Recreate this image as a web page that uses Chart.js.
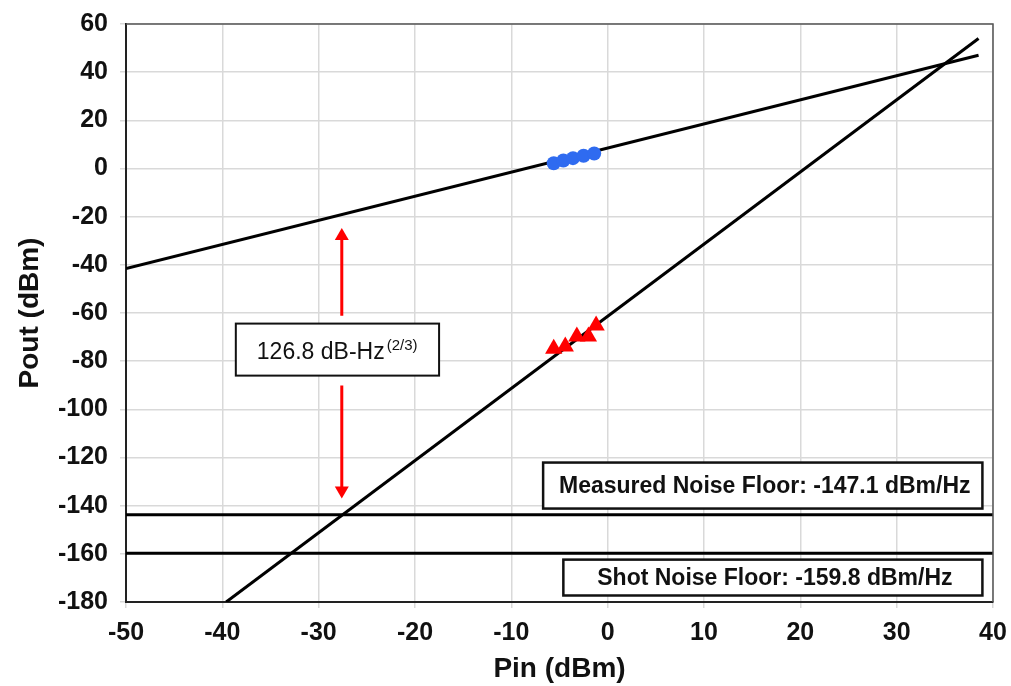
<!DOCTYPE html>
<html>
<head>
<meta charset="utf-8">
<script src="https://cdn.jsdelivr.net/npm/chart.js@4/dist/chart.umd.min.js"></script>
<style>
  html, body { margin: 0; padding: 0; background: #fff; }
  #chart { display: block; }
</style>
</head>
<body>
<canvas id="chart" width="1011" height="686"></canvas>
<script>
// =============================
// DATA
// =============================
const xTicks = [-50, -40, -30, -20, -10, 0, 10, 20, 30, 40];
const yTicks = [60, 40, 20, 0, -20, -40, -60, -80, -100, -120, -140, -160, -180];

// fitted fundamental (slope 1) and third order (slope 3) lines
const pinFund = [-50, 38.5];
const poutFund = [-41.5, 47];
const pinIM3 = [-39.6, 38.5];
const poutIM3 = [-180, 54];

// measured points
const pinFundMeas = [-5.6, -4.6, -3.6, -2.5, -1.4];
const poutFundMeas = [2.2, 3.3, 4.3, 5.3, 6.2];
const pinIM3Meas = [-5.6, -4.4, -3.2, -2.0, -1.2];
const poutIM3Meas = [-74.8, -73.9, -69.8, -69.8, -65.2];

// noise floors
const noiseX = [-50, 40];
const measuredFloor = -143.8;
const shotFloor = -159.8;

const sfdrLabel = "126.8 dB-Hz";
const sfdrSup = "(2/3)";
const measuredLabel = "Measured Noise Floor: -147.1 dBm/Hz";
const shotLabel = "Shot Noise Floor: -159.8 dBm/Hz";

function pts(xs, ys){
  return xs.map(function(x, i){ return {x: x, y: ys[i]}; });
}

const FONT = "'Liberation Sans', Arial, sans-serif";

// =============================
// ANNOTATIONS (arrow + boxes)
// =============================
const annotations = {
  id: "annotations",
  afterDatasetsDraw(chart){
    const ctx = chart.ctx;
    const xs = chart.scales.x;
    const ys = chart.scales.y;
    const area = chart.chartArea;
    const X = v => xs.getPixelForValue(v);
    const Y = v => ys.getPixelForValue(v);

    ctx.save();

    // frame top / right
    ctx.strokeStyle = "#555";
    ctx.lineWidth = 1.5;
    ctx.beginPath();
    ctx.moveTo(area.left, area.top);
    ctx.lineTo(area.right, area.top);
    ctx.lineTo(area.right, area.bottom);
    ctx.stroke();

    // red double arrow
    let ax = X(-27.6);
    ctx.strokeStyle = "#ff0000";
    ctx.fillStyle = "#ff0000";
    ctx.lineWidth = 3;
    ctx.beginPath();
    ctx.moveTo(ax, Y(-24.7) + 10);
    ctx.lineTo(ax, Y(-61.1));
    ctx.moveTo(ax, Y(-90.1));
    ctx.lineTo(ax, Y(-137) - 10);
    ctx.stroke();
    // heads
    ctx.beginPath();
    ctx.moveTo(ax, Y(-24.7));
    ctx.lineTo(ax - 7, Y(-24.7) + 12);
    ctx.lineTo(ax + 7, Y(-24.7) + 12);
    ctx.closePath();
    ctx.fill();
    ctx.beginPath();
    ctx.moveTo(ax, Y(-137));
    ctx.lineTo(ax - 7, Y(-137) - 12);
    ctx.lineTo(ax + 7, Y(-137) - 12);
    ctx.closePath();
    ctx.fill();

    function box(x1, y1, x2, y2, lw){
      let l = X(x1), t = Y(y1), r = X(x2), b = Y(y2);
      ctx.fillStyle = "#fff";
      ctx.fillRect(l, t, r - l, b - t);
      ctx.strokeStyle = "#111";
      ctx.lineWidth = lw;
      ctx.strokeRect(l, t, r - l, b - t);
      return {l: l, t: t, r: r, b: b};
    }

    // SFDR box
    let b1 = box(-38.6, -64.4, -17.5, -86.0, 2);
    ctx.fillStyle = "#111";
    ctx.textBaseline = "alphabetic";
    ctx.textAlign = "left";
    ctx.font = "23px " + FONT;
    let tx = b1.l + 21;
    let base = b1.t + 35;
    ctx.fillText(sfdrLabel, tx, base);
    let w = ctx.measureText(sfdrLabel).width;
    ctx.font = "15px " + FONT;
    ctx.fillText(sfdrSup, tx + w + 2, base - 9);

    // noise floor boxes
    let b2 = box(-6.7, -122.1, 38.9, -141.2, 2.5);
    ctx.fillStyle = "#111";
    ctx.textAlign = "center";
    ctx.textBaseline = "middle";
    ctx.font = "bold 23px " + FONT;
    ctx.fillText(measuredLabel, (b2.l + b2.r) / 2 + 2, (b2.t + b2.b) / 2 + 1);

    let b3 = box(-4.6, -162.4, 38.9, -177.3, 2.5);
    ctx.fillStyle = "#111";
    ctx.fillText(shotLabel, (b3.l + b3.r) / 2 + 2, (b3.t + b3.b) / 2 + 1);

    ctx.restore();
  }
};

// =============================
// CHART
// =============================
new Chart(document.getElementById("chart"), {
  type: "scatter",
  data: {
    datasets: [
      {
        data: pts(pinFundMeas, poutFundMeas),
        pointStyle: "circle",
        pointRadius: 7,
        pointBackgroundColor: "#2f6bf0",
        pointBorderWidth: 0,
        order: 0
      },
      {
        data: pts(pinIM3Meas, poutIM3Meas),
        pointStyle: "triangle",
        pointRadius: 10,
        pointBackgroundColor: "#ff0000",
        pointBorderWidth: 0,
        order: 0
      },
      {
        data: pts(pinFund, poutFund),
        showLine: true,
        borderColor: "#000",
        borderWidth: 3,
        pointRadius: 0,
        order: 1
      },
      {
        data: pts(pinIM3, poutIM3),
        showLine: true,
        borderColor: "#000",
        borderWidth: 3,
        pointRadius: 0,
        order: 1
      },
      {
        data: pts(noiseX, [measuredFloor, measuredFloor]),
        showLine: true,
        borderColor: "#000",
        borderWidth: 3,
        pointRadius: 0,
        order: 1
      },
      {
        data: pts(noiseX, [shotFloor, shotFloor]),
        showLine: true,
        borderColor: "#000",
        borderWidth: 3,
        pointRadius: 0,
        order: 1
      }
    ]
  },
  options: {
    responsive: false,
    animation: false,
    devicePixelRatio: 1,
    layout: { padding: { left: 0, right: 18, top: 24, bottom: 0 } },
    plugins: {
      legend: { display: false },
      tooltip: { enabled: false }
    },
    scales: {
      x: {
        type: "linear",
        min: -50,
        max: 40,
        afterBuildTicks: function(s){ s.ticks = xTicks.map(v => ({value: v})); },
        afterFit: function(s){
          s.height = 84;
          s.paddingLeft = 0; s.paddingRight = 0;
        },
        grid: { color: "#d9d9d9", lineWidth: 1.5, tickLength: 6 },
        border: { color: "#222", width: 2 },
        ticks: {
          color: "#111",
          padding: 10,
          font: { family: FONT, size: 25, weight: "bold" },
          maxRotation: 0
        },
        title: {
          display: true,
          text: "Pin (dBm)",
          color: "#111",
          padding: { top: 1, bottom: 0 },
          font: { family: FONT, size: 28, weight: "bold" }
        }
      },
      y: {
        type: "linear",
        min: -180,
        max: 60,
        afterBuildTicks: function(s){ s.ticks = yTicks.map(v => ({value: v})); },
        afterFit: function(s){
          s.width = 126;
          s.paddingTop = 0; s.paddingBottom = 0;
        },
        grid: { color: "#d9d9d9", lineWidth: 1.5, tickLength: 6 },
        border: { color: "#222", width: 2 },
        ticks: {
          color: "#111",
          padding: 12,
          font: { family: FONT, size: 25, weight: "bold" }
        },
        title: {
          display: true,
          text: "Pout (dBm)",
          color: "#111",
          padding: { top: 13, bottom: 0 },
          font: { family: FONT, size: 28, weight: "bold" }
        }
      }
    }
  },
  plugins: [annotations]
});
</script>
</body>
</html>
